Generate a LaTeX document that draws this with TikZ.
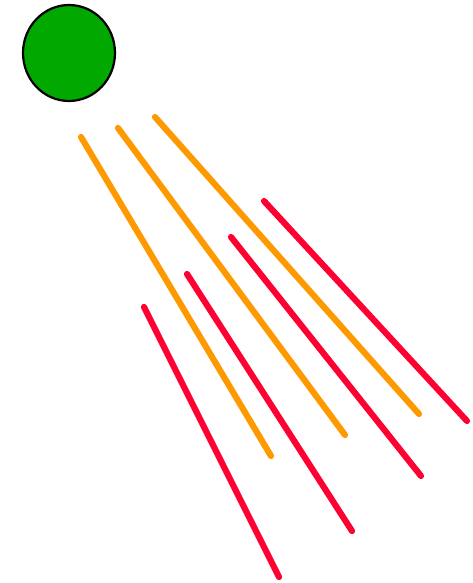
\documentclass[tikz,border=0pt]{standalone}
\usepackage{tikz}
\usepackage{xcolor}
\definecolor{sungreen}{HTML}{00A800}
\definecolor{rayorange}{HTML}{FF9900}
\definecolor{rayred}{HTML}{FF0033}

\begin{document}
\begin{tikzpicture}[x=1pt,y=-1pt, ray/.style={line width=6.2pt,line cap=round}, orangeray/.style={ray,rayorange}, redray/.style={ray,rayred}]
\useasboundingbox (0,0) rectangle (472,583);
\draw[fill=sungreen,line width=2.2pt] (69,53) ellipse [x radius=46,y radius=48];
% orange rays
\draw[orangeray] (81,137) -- (271,456);
\draw[orangeray] (118,128) -- (345,435);
\draw[orangeray] (155,117) -- (419,414);
% red rays
\draw[redray] (144,307) -- (279,577);
\draw[redray] (187,274) -- (352,531);
\draw[redray] (231,237) -- (421,476);
\draw[redray] (264,201) -- (467,421);
\end{tikzpicture}
\end{document}
